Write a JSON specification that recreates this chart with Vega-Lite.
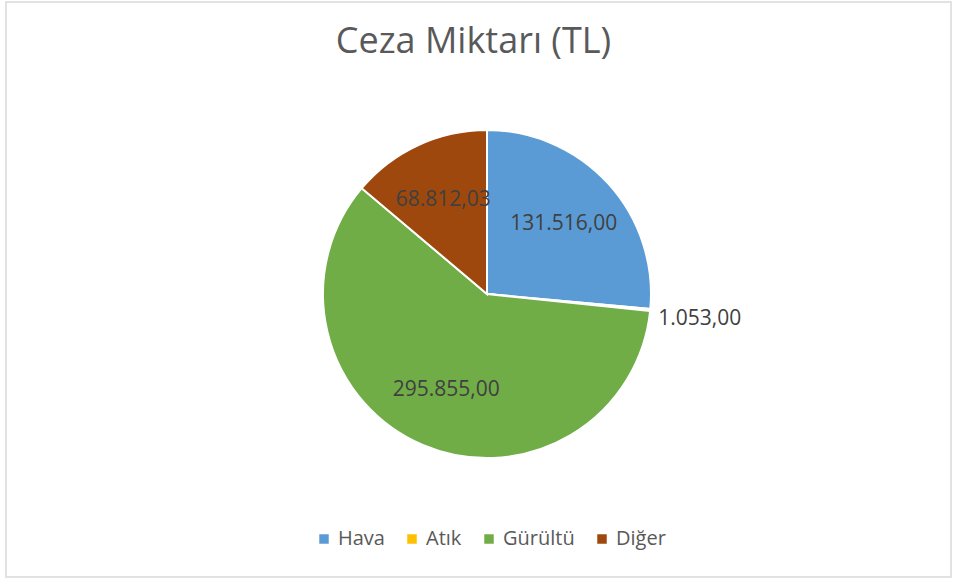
{
  "$schema": "https://vega.github.io/schema/vega-lite/v6.json",
  "width": 955,
  "height": 580,
  "autosize": {"type": "fit", "contains": "padding"},
  "padding": {"left": 6, "top": 2, "right": 4, "bottom": 3},
  "background": "white",
  "view": {"stroke": "#d9d9d9", "strokeWidth": 1.5, "fill": "white"},
  "config": {
    "locale": {"number": {"decimal": ",", "thousands": ".", "grouping": [3], "currency": ["", " TL"]}},
    "font": "Open Sans"
  },
  "title": {
    "text": "Ceza Miktarı (TL)",
    "font": "Open Sans",
    "fontSize": 36,
    "fontWeight": "normal",
    "color": "#595959",
    "anchor": "middle",
    "frame": "group",
    "dx": -5,
    "offset": -59
  },
  "data": {
    "values": [
      {"kategori": "Hava", "miktar": 131516.00, "sira": 1},
      {"kategori": "Atık", "miktar": 1053.00, "sira": 2},
      {"kategori": "Gürültü", "miktar": 295855.00, "sira": 3},
      {"kategori": "Diğer", "miktar": 68812.03, "sira": 4}
    ]
  },
  "encoding": {
    "theta": {"field": "miktar", "type": "quantitative", "stack": true},
    "order": {"field": "sira", "type": "quantitative"}
  },
  "layer": [
    {
      "mark": {"type": "arc", "outerRadius": 164, "stroke": "white", "strokeWidth": 2, "x": {"expr": "width/2+8.5"}, "y": {"expr": "height/2+4.5"}},
      "encoding": {
        "color": {
          "field": "kategori",
          "type": "nominal",
          "scale": {"domain": ["Hava", "Atık", "Gürültü", "Diğer"], "range": ["#5B9BD5", "#FFC000", "#70AD47", "#9E480E"]},
          "legend": {
            "title": null,
            "orient": "none",
            "direction": "horizontal",
            "columns": 4,
            "legendX": 308,
            "legendY": 527,
            "symbolType": "square",
            "symbolSize": 90,
            "symbolStrokeWidth": 0,
            "labelFont": "Open Sans",
            "labelFontSize": 20,
            "labelColor": "#595959",
            "labelOffset": 4,
            "columnPadding": 17
          }
        }
      }
    },
    {
      "mark": {
        "type": "text",
        "radius": {"expr": "datum.kategori === 'Atık' ? 172 : 104"},
        "align": {"expr": "datum.kategori === 'Atık' ? 'left' : 'center'"},
        "dy": {"expr": "datum.kategori === 'Atık' ? 8 : 0"},
        "fontSize": 21,
        "font": "Open Sans",
        "color": "#404040",
        "x": {"expr": "width/2+8.5"},
        "y": {"expr": "height/2+4.5"}
      },
      "encoding": {
        "text": {"field": "miktar", "type": "quantitative", "format": ",.2f"}
      }
    }
  ]
}
